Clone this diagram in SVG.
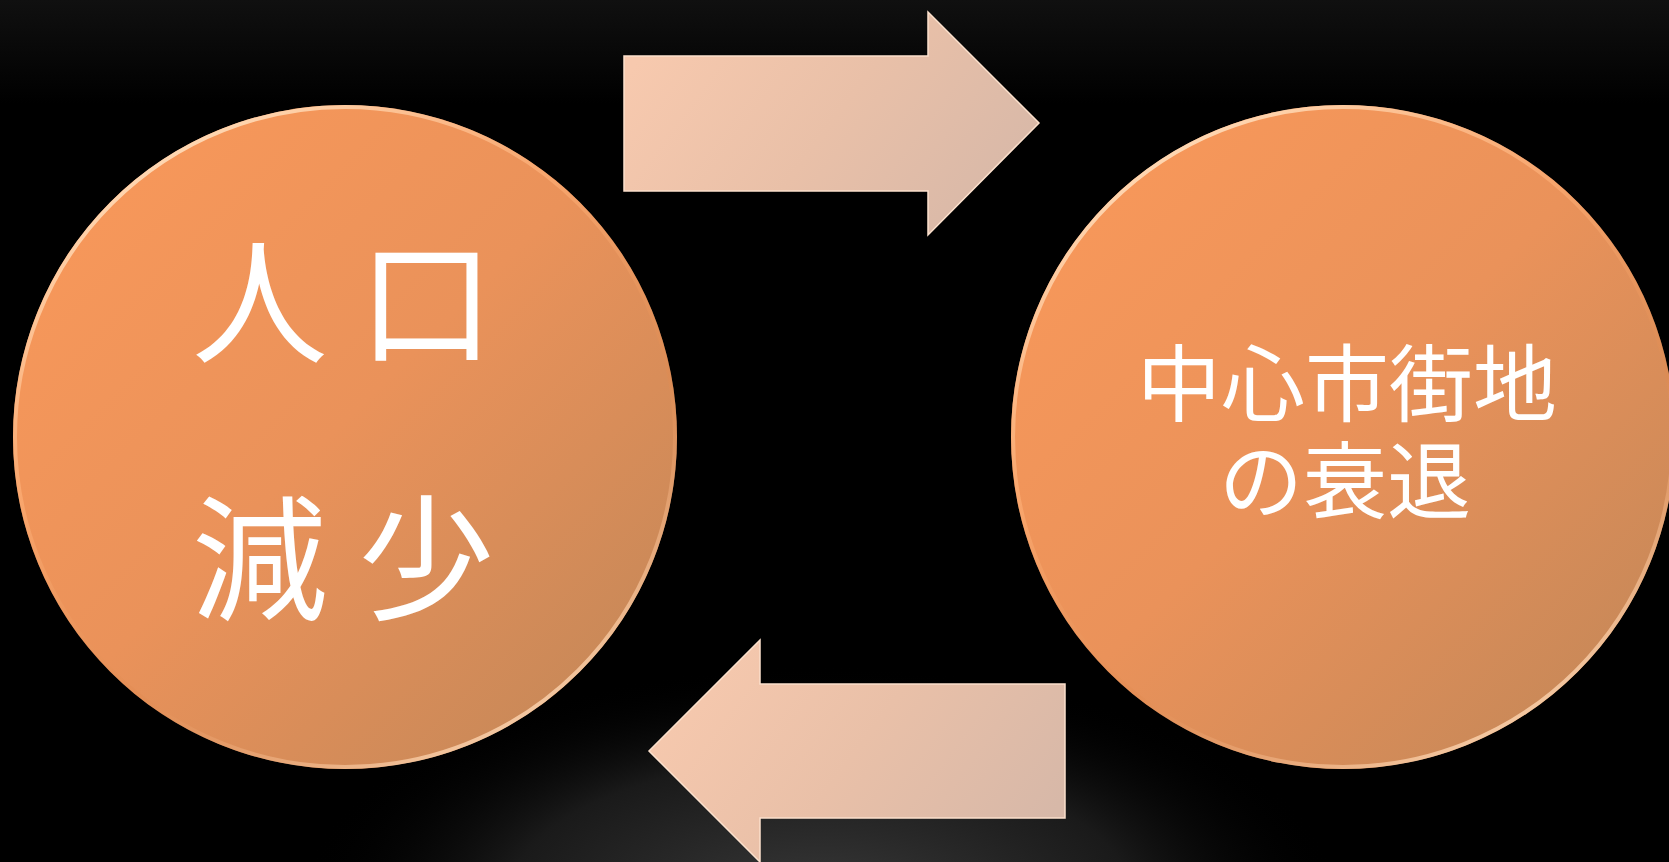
<svg xmlns="http://www.w3.org/2000/svg" width="1669" height="862" viewBox="0 0 1669 862">
<defs>
<linearGradient id="bgTop" x1="0" y1="0" x2="0" y2="1">
<stop offset="0" stop-color="#101010"/>
<stop offset="0.12" stop-color="#000000"/>
<stop offset="1" stop-color="#000000"/>
</linearGradient>
<radialGradient id="bgGlow" cx="820" cy="900" r="520" gradientUnits="userSpaceOnUse" gradientTransform="translate(820 900) scale(1 0.45) translate(-820 -900)">
<stop offset="0" stop-color="#383838"/>
<stop offset="0.6" stop-color="#1a1a1a"/>
<stop offset="1" stop-color="#000000" stop-opacity="0"/>
</radialGradient>
<linearGradient id="circFill" x1="0.15" y1="0.15" x2="0.9" y2="0.9">
<stop offset="0" stop-color="#F6975A"/>
<stop offset="0.45" stop-color="#EA925A"/>
<stop offset="1" stop-color="#C78858"/>
</linearGradient>
<linearGradient id="circRim" x1="0.2" y1="0" x2="0.8" y2="1">
<stop offset="0" stop-color="#FFE6C8"/>
<stop offset="0.35" stop-color="#FFB27A" stop-opacity="0.6"/>
<stop offset="0.65" stop-color="#E08A50" stop-opacity="0.4"/>
<stop offset="1" stop-color="#FFE0C0"/>
</linearGradient>
<linearGradient id="arrowFill" x1="0" y1="0.3" x2="1" y2="0.7">
<stop offset="0" stop-color="#F7C9AE"/>
<stop offset="0.5" stop-color="#E9C0A8"/>
<stop offset="1" stop-color="#D7B8A8"/>
</linearGradient>
<style>
.node circle.body{fill:url(#circFill)}
.node circle.rim{fill:none;stroke:url(#circRim);stroke-width:4}
.arrow{fill:url(#arrowFill);stroke:#FBE0CC;stroke-width:1.5;stroke-linejoin:miter}
.lbl{font-family:"Noto Sans CJK JP","Noto Sans CJK SC",sans-serif;fill:#FFFFFF;text-anchor:middle}
</style>
</defs>
<rect x="0" y="0" width="1669" height="862" fill="url(#bgTop)"/>
<rect x="0" y="500" width="1669" height="362" fill="url(#bgGlow)"/>
<g id="connectors">
<path id="arrow-top" class="arrow" d="M624,56 H928 V12 L1039,123 L928,235 V191 H624 Z"/>
<path id="arrow-bottom" class="arrow" d="M1065,684 H760 V640 L649,751 L760,862 V818 H1065 Z"/>
</g>
<g id="node-jinkou" class="node">
<circle class="body" cx="345" cy="437" r="332"/>
<circle class="rim" cx="345" cy="437" r="330"/>
<text class="lbl" x="343" y="353" font-size="136">人 口</text>
<text class="lbl" x="343" y="610" font-size="136">減 少</text>
</g>
<g id="node-chushin" class="node">
<circle class="body" cx="1343" cy="437" r="332"/>
<circle class="rim" cx="1343" cy="437" r="330"/>
<text class="lbl" x="1347" y="415" font-size="84">中心市街地</text>
<text class="lbl" x="1345" y="512" font-size="84">の衰退</text>
</g>
</svg>
